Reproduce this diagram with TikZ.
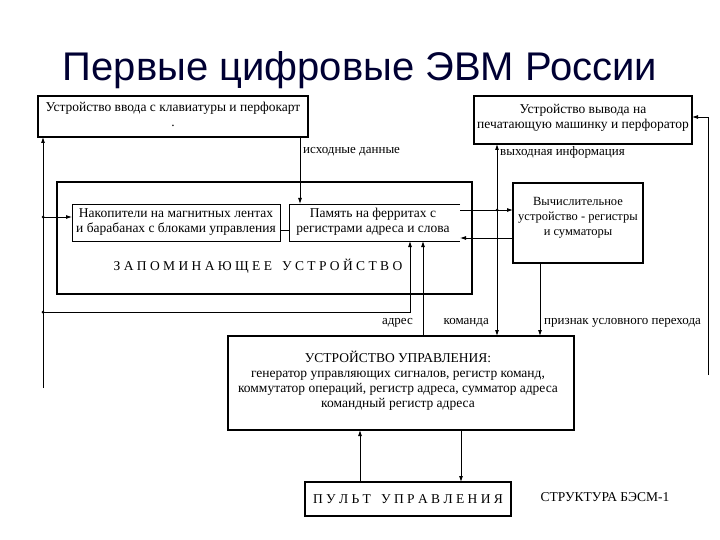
\documentclass[tikz,border=0pt]{standalone}
\usepackage{fontspec}
\setmainfont{Liberation Serif}
\newfontfamily\titlefont{Liberation Sans}
\usetikzlibrary{arrows.meta}
\begin{document}
\begin{tikzpicture}[x=1pt,y=-1pt,
  thickbox/.style={draw,line width=2pt},
  thinbox/.style={draw,line width=0.8pt},
  conn/.style={line width=0.8pt},
  arr/.style={conn,-{Latex[length=6pt,width=4pt]}},
  lbl/.style={font=\fontsize{13}{14}\selectfont,inner sep=1pt},
  txt/.style={font=\fontsize{13.5}{15}\selectfont,align=center}]
\useasboundingbox (0,0) rectangle (720,540);
\node[font=\titlefont\fontsize{40}{46}\selectfont,text=black!80!blue] (title) at (360,70) {Первые цифровые ЭВМ России};
% boxes
\draw[thickbox] (38,96) rectangle (308,137);
\node[txt] (in) at (173,114) {Устройство ввода с клавиатуры и перфокарт\\.};
\draw[thickbox] (474,96) rectangle (692,144);
\node[txt] (out) at (583,118) {Устройство вывода на\\печатающую машинку и перфоратор};
\draw[thickbox] (57,182) rectangle (472,294);
\node[txt] (stor) at (258,266) {З А П О М И Н А Ю Щ Е Е \ \ У С Т Р О Й С Т В О};
\draw[thinbox] (72,204) rectangle (280,241);
\node[txt] (nak) at (176,222) {Накопители на магнитных лентах\\и барабанах с блоками управления};
\draw[thinbox] (460,204) -- (289,204) -- (289,241) -- (460,241);
\node[txt] (mem) at (373,222) {Память на ферритах с\\регистрами адреса и слова};
\draw[thickbox] (513,183) rectangle (643,263);
\node[txt,font=\fontsize{12.5}{15}\selectfont] (comp) at (578,218) {Вычислительное\\устройство - регистры\\и сумматоры};
\draw[thickbox] (228,336) rectangle (574,430);
\node[txt] (ctl) at (398,381) {УСТРОЙСТВО УПРАВЛЕНИЯ:\\генератор управляющих сигналов, регистр команд,\\коммутатор операций, регистр адреса, сумматор адреса\\командный регистр адреса};
\draw[thickbox] (305,482) rectangle (511,516);
\node[txt] (pult) at (408,499) {П У Л Ь Т \ \ У П Р А В Л Е Н И Я};
\node[txt] (str) at (605,497) {СТРУКТУРА БЭСМ-1};
% connectors
\coordinate (a1) at (300,137); \coordinate (a2) at (300,204);
\draw[arr] (a1) -- (a2);
\node[lbl,anchor=west] (l1) at (302,152) {исходные данные};
\coordinate (b0) at (43,388); \coordinate (b1) at (43,137);
\draw[arr] (b0) -- (b1);
\coordinate (b2) at (43,217); \coordinate (b3) at (72,217);
\draw[arr] (b2) -- (b3);
\fill (b2) circle (1.5pt);
\coordinate (c1) at (280,230); \coordinate (c2) at (289,230);
\draw[conn] (c1) -- (c2);
\coordinate (d0) at (43,312); \coordinate (d1) at (410,312); \coordinate (d2) at (410,241);
\fill (d0) circle (1.5pt);
\draw[arr] (d0) -- (d1) -- (d2);
\coordinate (e0) at (423,336); \coordinate (e1) at (423,241);
\draw[arr] (e0) -- (e1);
\node[lbl,anchor=east] (l2) at (414,323) {адрес};
\coordinate (f0) at (497,210); \coordinate (f1) at (497,144); \coordinate (f2) at (497,336);
\draw[arr] (f0) -- (f1);
\draw[arr] (f0) -- (f2);
\node[lbl,anchor=west] (l3) at (499,152) {выходная информация};
\node[lbl,anchor=east] (l4) at (490,323) {команда};
\coordinate (g0) at (460,210); \coordinate (g1) at (513,210);
\draw[arr] (g0) -- (g1);
\fill (f0) circle (1.5pt);
\coordinate (h0) at (513,238); \coordinate (h1) at (460,238);
\draw[arr] (h0) -- (h1);
\coordinate (i0) at (540,263); \coordinate (i1) at (540,336);
\draw[arr] (i0) -- (i1);
\node[lbl,anchor=west] (l5) at (543,323) {признак условного перехода};
\coordinate (j0) at (708,375); \coordinate (j1) at (708,117); \coordinate (j2) at (692,117);
\draw[arr] (j0) -- (j1) -- (j2);
\coordinate (k0) at (360,482); \coordinate (k1) at (360,430);
\draw[arr] (k0) -- (k1);
\coordinate (m0) at (461,430); \coordinate (m1) at (461,482);
\draw[arr] (m0) -- (m1);
\end{tikzpicture}
\end{document}
